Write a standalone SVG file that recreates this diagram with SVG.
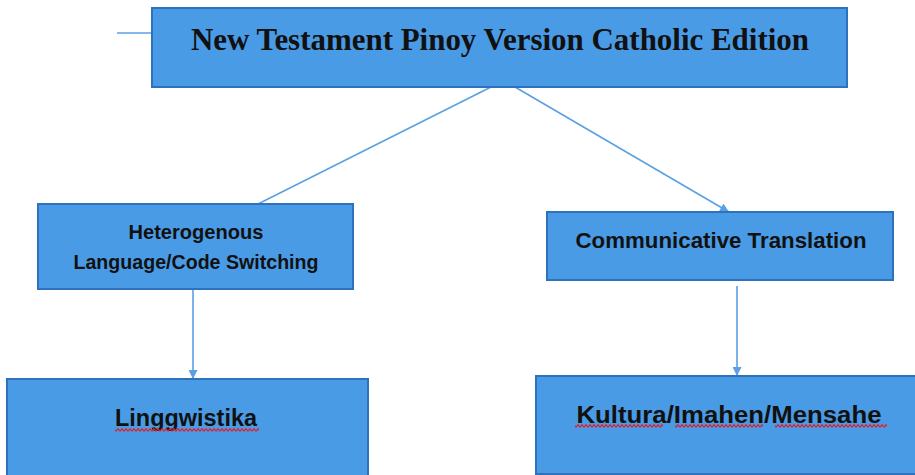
<svg xmlns="http://www.w3.org/2000/svg" width="915" height="475" viewBox="0 0 915 475">
<style>
.box{fill:#4a9be5;stroke:#2e72bd;stroke-width:2}
.conn{stroke:#5ba0e3;stroke-width:1.6;fill:none}
.t{font-family:"Liberation Sans",Arial,sans-serif;font-weight:bold;fill:#111;text-anchor:middle}
.title{font-family:"Liberation Serif","Times New Roman",serif;font-weight:bold;fill:#111;text-anchor:middle;font-size:30.5px}
.sq{fill:url(#wave)}
</style>
<defs>
<marker id="arr" viewBox="0 0 10 10" refX="10" refY="5" markerWidth="10" markerHeight="9" markerUnits="userSpaceOnUse" orient="auto">
<path d="M0,0 L10,5 L0,10 Z" fill="#5ba0e3"/>
</marker>
<pattern id="wave" patternUnits="userSpaceOnUse" x="0" y="0" width="4" height="4">
<path d="M0,3.3 L2,0.7 L4,3.3" fill="none" stroke="#e0202a" stroke-width="1.2"/>
</pattern>
</defs>
<g id="connectors">
<line class="conn" x1="117" y1="33" x2="152" y2="33"/>
<line class="conn" x1="493" y1="86" x2="258" y2="204"/>
<line class="conn" x1="515" y1="87" x2="729" y2="212" marker-end="url(#arr)"/>
<line class="conn" x1="193" y1="290" x2="193" y2="379" marker-end="url(#arr)"/>
<line class="conn" x1="737" y1="286" x2="737" y2="376" marker-end="url(#arr)"/>
</g>
<g id="top">
<rect class="box" x="152" y="8" width="695" height="79"/>
<text class="title" x="500" y="50" textLength="618" lengthAdjust="spacingAndGlyphs">New Testament Pinoy Version Catholic Edition</text>
</g>
<g id="hetero">
<rect class="box" x="38" y="204" width="315" height="85"/>
<text class="t" x="196" y="239" font-size="19.5" textLength="135" lengthAdjust="spacingAndGlyphs">Heterogenous</text>
<text class="t" x="196" y="269" font-size="19.5" textLength="245" lengthAdjust="spacingAndGlyphs">Language/Code Switching</text>
</g>
<g id="communicative">
<rect class="box" x="547" y="212" width="346" height="68"/>
<text class="t" x="721" y="248" font-size="21.5" textLength="291" lengthAdjust="spacingAndGlyphs">Communicative Translation</text>
</g>
<g id="linggwistika">
<rect class="box" x="7" y="379" width="361" height="100"/>
<text class="t" x="186" y="426" font-size="23" textLength="142" lengthAdjust="spacingAndGlyphs">Linggwistika</text>
<rect class="sq" x="115" y="428" width="144" height="4"/>
</g>
<g id="kultura">
<rect class="box" x="536" y="376" width="384" height="98"/>
<text class="t" x="729" y="423" font-size="23" textLength="305" lengthAdjust="spacingAndGlyphs">Kultura/Imahen/Mensahe</text>
<rect class="sq" x="575" y="424" width="88" height="4"/>
<rect class="sq" x="675" y="424" width="88" height="4"/>
<rect class="sq" x="775" y="424" width="112" height="4"/>
</g>
</svg>
